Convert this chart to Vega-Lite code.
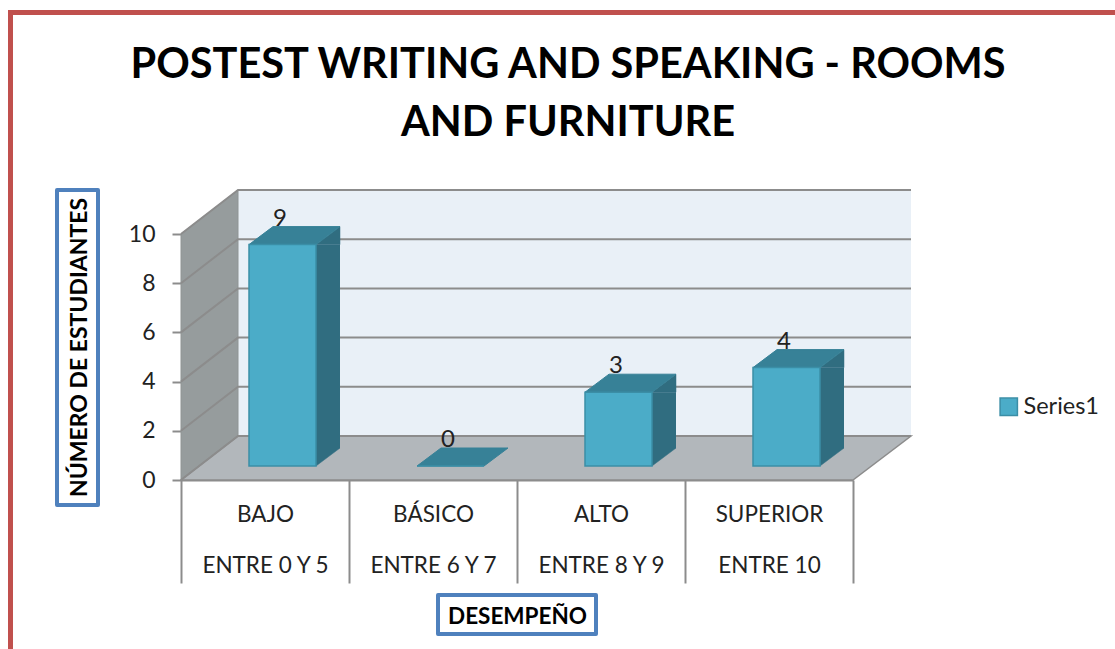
{
"$schema":"https://vega.github.io/schema/vega-lite/v6.json",
"autosize":{"type":"none"},
"padding":{"left":181,"top":234,"right":262,"bottom":169},
"width":672,"height":246,
"background":"white",
"title":{"text":["POSTEST WRITING AND SPEAKING - ROOMS","AND FURNITURE"],"font":"Lato","fontSize":41.5,"fontWeight":"bold","color":"#000000","anchor":"middle","baseline":"alphabetic","lineHeight":58,"offset":0,"dy":175,"dx":51},
"datasets":{
"bars":[
{"categoria":"BAJO|ENTRE 0 Y 5","estudiantes":9,"serie":"Series1"},
{"categoria":"BÁSICO|ENTRE 6 Y 7","estudiantes":0,"serie":"Series1"},
{"categoria":"ALTO|ENTRE 8 Y 9","estudiantes":3,"serie":"Series1"},
{"categoria":"SUPERIOR|ENTRE 10","estudiantes":4,"serie":"Series1"}],
"ticks":[{"t":0},{"t":2},{"t":4},{"t":6},{"t":8},{"t":10}]
},
"data":{"name":"bars"},
"encoding":{
"x":{"field":"categoria","type":"nominal","sort":null,"scale":{"domain":["BAJO|ENTRE 0 Y 5","BÁSICO|ENTRE 6 Y 7","ALTO|ENTRE 8 Y 9","SUPERIOR|ENTRE 10"],"paddingInner":0,"paddingOuter":0},
"axis":{"title":"DESEMPEÑO","titleFont":"Lato","titleFontSize":22.5,"titleFontWeight":"bold","titleColor":"#000000","titleX":336,"titleY":136,"titleBaseline":"middle","titleAnchor":"middle","titleAlign":"center",
"labelAngle":0,"labelExpr":"split(datum.label,'|')","labelFont":"Lato","labelFontSize":22.5,"labelColor":"#222222","labelLineHeight":51,"labelBaseline":"top","labelPadding":-80,"labelBound":false,"labelFlush":false,"labelOverlap":false,"labelLimit":0,"tickBand":"extent","tickSize":103,"tickColor":"#8c8c8c","tickWidth":2,"domainColor":"#8c8c8c","domainWidth":2,"grid":false}},
"y":{"type":"quantitative","scale":{"domain":[0,10],"nice":false},
"axis":{"title":"NÚMERO DE ESTUDIANTES","titleFont":"Lato","titleFontSize":23,"titleFontWeight":"bold","titleColor":"#000000","titleAngle":270,"titleX":-102,"titleY":113,"titleBaseline":"middle","titleAnchor":"middle","titleAlign":"center",
"values":[0,2,4,6,8,10],"labelFont":"Lato","labelFontSize":23,"labelColor":"#222222","labelPadding":17,"tickSize":9,"tickColor":"#8c8c8c","tickWidth":2,"domain":false,"grid":false}}
},
"layer":[
{"data":{"values":[{"a":1}]},"mark":{"type":"point","size":4,"opacity":1,"filled":true,"fill":"#e9f0f7","strokeWidth":0,"shape":"M-27 -290 L646 -290 L646 -44 L-27 -44 Z"},"encoding":{"x":{"datum":"BAJO|ENTRE 0 Y 5"},"y":{"datum":0}}},
{"data":{"values":[{"a":1}]},"mark":{"type":"point","size":4,"opacity":1,"filled":true,"fill":"#969c9d","stroke":"#8f9494","strokeWidth":1,"shape":"M-84 0 L-84 -246 L-27 -290 L-27 -44 Z"},"encoding":{"x":{"datum":"BAJO|ENTRE 0 Y 5"},"y":{"datum":0}}},
{"data":{"values":[{"a":1}]},"mark":{"type":"point","size":4,"opacity":1,"filled":true,"fill":"#b2b7bb","stroke":"#8c8c8c","strokeWidth":1.5,"shape":"M-84 0 L588 0 L646 -44 L-27 -44 Z"},"encoding":{"x":{"datum":"BAJO|ENTRE 0 Y 5"},"y":{"datum":0}}},
{"data":{"name":"ticks"},"mark":{"type":"point","size":4,"opacity":1,"filled":false,"stroke":"#8c8c8c","strokeWidth":2,"shape":"M-84 0 L-27 -44 L646 -44"},"encoding":{"x":{"datum":"BAJO|ENTRE 0 Y 5"},"y":{"field":"t","type":"quantitative"}}},
{"data":{"values":[{"a":1}]},"mark":{"type":"point","size":4,"opacity":1,"filled":false,"stroke":"#c0504d","strokeWidth":5,"shape":"M-254.5 172 L-254.5 -467.5 L852 -467.5"},"encoding":{"x":{"datum":"BAJO|ENTRE 0 Y 5"},"y":{"datum":0}}},
{"data":{"values":[{"a":1}]},"mark":{"type":"point","size":4,"opacity":1,"filled":false,"stroke":"#4f81bd","strokeWidth":4,"strokeJoin":"round","shape":"M-208 -290 L-167 -290 L-167 25 L-208 25 Z M173 115 L331 115 L331 154 L173 154 Z"},"encoding":{"x":{"datum":"BAJO|ENTRE 0 Y 5"},"y":{"datum":0}}},
{"transform":[{"filter":"datum.estudiantes>0"}],"mark":{"type":"bar","size":24,"xOffset":63,"yOffset":-14,"y2Offset":-32,"fill":"#306d80"},"encoding":{"y":{"field":"estudiantes","type":"quantitative"},"y2":{"datum":0}}},
{"transform":[{"filter":"datum.estudiantes>0"}],"mark":{"type":"point","size":4,"opacity":1,"filled":true,"fill":"#306d80","stroke":"#306d80","strokeWidth":0.5,"shape":"M51 -14 L75 -14 L75 -32 Z"},"encoding":{"y":{"field":"estudiantes","type":"quantitative"}}},
{"transform":[{"filter":"datum.estudiantes>0"}],"mark":{"type":"point","size":4,"opacity":1,"filled":true,"fill":"#306d80","stroke":"#306d80","strokeWidth":0.5,"shape":"M51 -14 L51 -32 L75 -32 Z"},"encoding":{"y":{"datum":0}}},
{"mark":{"type":"point","size":4,"opacity":1,"filled":true,"fill":"#378197","stroke":"#378197","strokeWidth":1,"shape":"M-16 -14 L51 -14 L75 -32 L8 -32 Z"},"encoding":{"y":{"field":"estudiantes","type":"quantitative"}}},
{"mark":{"type":"bar","size":67,"xOffset":17.5,"yOffset":-14,"y2Offset":-14,"stroke":"#3b8ea6","strokeWidth":1.5},"encoding":{"y":{"field":"estudiantes","type":"quantitative"},"y2":{"datum":0},"color":{"field":"serie","type":"nominal","scale":{"domain":["Series1"],"range":["#4bacc8"]},"legend":{"title":null,"orient":"none","legendX":816,"legendY":161,"padding":0,"symbolType":"square","symbolSize":300,"symbolStrokeColor":"#3b8ea6","symbolStrokeWidth":1.5,"labelFont":"Lato","labelFontSize":23.5,"labelColor":"#222222","labelOffset":3}}}},
{"mark":{"type":"text","font":"Lato","fontSize":24,"color":"#222222","dx":15,"dy":-40,"baseline":"middle"},"encoding":{"y":{"field":"estudiantes","type":"quantitative"},"text":{"field":"estudiantes","type":"quantitative"}}}
]
}
